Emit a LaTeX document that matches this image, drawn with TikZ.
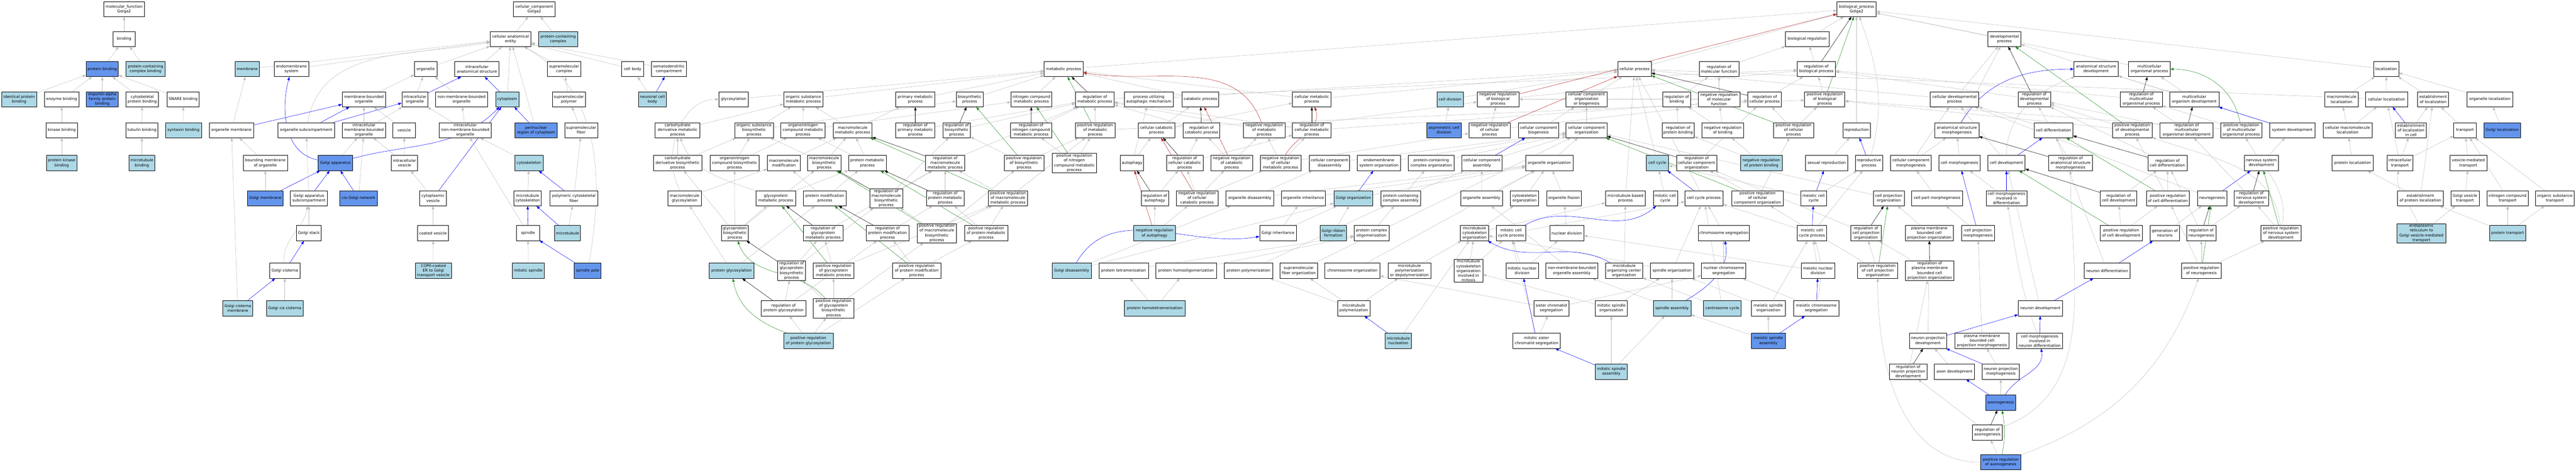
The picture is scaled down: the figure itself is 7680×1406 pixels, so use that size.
\documentclass[tikz,border=0pt]{standalone}
\usepackage{fontspec}
\setmainfont{DejaVu Sans}
\usepackage{tikz}
\usetikzlibrary{arrows.meta, backgrounds}
\definecolor{termlight}{RGB}{173,216,230}
\definecolor{termblue}{RGB}{100,149,237}
\definecolor{edgegray}{RGB}{190,190,190}
\definecolor{posgreen}{RGB}{34,139,34}
\definecolor{negred}{RGB}{178,34,34}
\newcommand{\gofont}{\fontsize{8.6pt}{10.5pt}\selectfont}
\tikzset{
	term/.style={draw=black, line width=0.8pt, fill=white, rectangle, align=center,
		inner xsep=1pt, inner ysep=1.5pt, minimum height=33.75pt, font=\gofont},
	wd/.style={minimum width=#1*0.75pt},
	lb/.style={fill=termlight},
	cb/.style={fill=termblue},
	isa/.style={draw=edgegray, line width=0.6pt, -{Triangle[length=7.5pt,width=5.5pt]}},
	partof/.style={draw=blue, line width=0.6pt, -{Triangle[length=7.5pt,width=5.5pt]}},
	regl/.style={draw=black, line width=0.6pt, -{Triangle[length=7.5pt,width=5.5pt]}},
	posreg/.style={draw=posgreen, line width=0.6pt, -{Triangle[length=7.5pt,width=5.5pt]}},
	negreg/.style={draw=negred, line width=0.6pt, -{Triangle[length=7.5pt,width=5.5pt]}}
}
\begin{document}
\begin{tikzpicture}[x=0.75pt, y=-0.75pt]
	\useasboundingbox (0,0) rectangle (7680,1406);
	% molecular function
	\node[term, wd=122] (mf) at (370,27) {molecular\_function\\Golga2};
	\node[term, wd=67] (bind) at (370,116) {binding};
	\node[term, cb, wd=96] (pbind) at (305,206) {protein binding};
	\node[term, lb, wd=117] (pccb) at (434,206) {protein-containing\\complex binding};
	\node[term, lb, wd=105] (idpb) at (57,296) {identical protein\\binding};
	\node[term, wd=103] (enzb) at (184,296) {enzyme binding};
	\node[term, cb, wd=96] (impb) at (305,296) {importin-alpha\\family protein\\binding};
	\node[term, wd=97] (cytpb) at (424,296) {cytoskeletal\\protein binding};
	\node[term, wd=95] (snareb) at (546,296) {SNARE binding};
	\node[term, wd=95] (kinb) at (184,388) {kinase binding};
	\node[term, wd=95] (tubb) at (423,388) {tubulin binding};
	\node[term, lb, wd=107] (syntb) at (547,388) {syntaxin binding};
	\node[term, lb, wd=91] (pkinb) at (184,486) {protein kinase\\binding};
	\node[term, lb, wd=78] (mtb) at (423,486) {microtubule\\binding};
	% cellular component
	\node[term, wd=124] (cc) at (1593,27) {cellular\_component\\Golga2};
	\node[term, wd=122] (cae) at (1522,116) {cellular anatomical\\entity};
	\node[term, lb, wd=116] (pcc) at (1664,116) {protein-containing\\complex};
	\node[term, lb, wd=72] (membr) at (737,206) {membrane};
	\node[term, wd=102] (endos) at (869,206) {endomembrane\\system};
	\node[term, wd=68] (organ) at (1269,206) {organelle};
	\node[term, wd=132] (ias) at (1422,206) {intracellular\\anatomical structure};
	\node[term, wd=99] (smc) at (1682,206) {supramolecular\\complex};
	\node[term, wd=66] (cbody) at (1886,206) {cell body};
	\node[term, wd=105] (sdc) at (1994,206) {somatodendritic\\compartment};
	\node[term, wd=130] (mbo) at (1085,296) {membrane-bounded\\organelle};
	\node[term, wd=78] (io) at (1237,296) {intracellular\\organelle};
	\node[term, wd=155] (nmbo) at (1376,296) {non-membrane-bounded\\organelle};
	\node[term, lb, wd=69] (cytopl) at (1512,296) {cytoplasm};
	\node[term, wd=99] (smp) at (1696,296) {supramolecular\\polymer};
	\node[term, lb, wd=84] (ncb) at (1945,296) {neuronal cell\\body};
	\node[term, wd=133] (omem) at (690,388) {organelle membrane};
	\node[term, wd=170] (osub) at (913,388) {organelle subcompartment};
	\node[term, wd=130] (imbo) at (1085,388) {intracellular\\membrane-bounded\\organelle};
	\node[term, wd=68] (vesic) at (1205,388) {vesicle};
	\node[term, wd=155] (inmbo) at (1387,388) {intracellular\\non-membrane-bounded\\organelle};
	\node[term, cb, wd=127] (pnr) at (1598,388) {perinuclear\\region of cytoplasm};
	\node[term, wd=99] (smf) at (1733,388) {supramolecular\\fiber};
	\node[term, wd=132] (bmo) at (791,486) {bounding membrane\\of organelle};
	\node[term, cb, wd=102] (golgi) at (1000,486) {Golgi apparatus};
	\node[term, wd=78] (ivesic) at (1206,486) {intracellular\\vesicle};
	\node[term, lb, wd=84] (cytsk) at (1577,486) {cytoskeleton};
	\node[term, cb, wd=107] (gmem) at (791,591) {Golgi membrane};
	\node[term, wd=110] (gasub) at (921,591) {Golgi apparatus\\subcompartment};
	\node[term, cb, wd=112] (cgn) at (1069,591) {cis-Golgi network};
	\node[term, wd=80] (cvesic) at (1291,591) {cytoplasmic\\vesicle};
	\node[term, wd=82] (mtcsk) at (1573,591) {microtubule\\cytoskeleton};
	\node[term, wd=144] (pcf) at (1711,591) {polymeric cytoskeletal\\fiber};
	\node[term, wd=74] (gstack) at (921,695) {Golgi stack};
	\node[term, wd=92] (coatv) at (1291,695) {coated vesicle};
	\node[term, wd=68] (spindle) at (1574,695) {spindle};
	\node[term, lb, wd=77] (mtub) at (1692,695) {microtubule};
	\node[term, wd=90] (gcist) at (849,807) {Golgi cisterna};
	\node[term, lb, wd=107] (copii) at (1292,807) {COPII-coated\\ER to Golgi\\transport vesicle};
	\node[term, lb, wd=95] (mitsp) at (1575,807) {mitotic spindle};
	\node[term, cb, wd=80] (sppole) at (1752,807) {spindle pole};
	\node[term, lb, wd=89] (gcmem) at (709,919) {Golgi cisterna\\membrane};
	\node[term, lb, wd=110] (gcis) at (849,919) {Golgi cis cisterna};
	% metabolic processes
	\node[term, wd=88] (glyc) at (2187,296) {glycosylation};
	\node[term, wd=117] (osmp) at (2395,296) {organic substance\\metabolic process};
	\node[term, wd=133] (cdmp) at (2020,388) {carbohydrate\\derivative metabolic\\process};
	\node[term, wd=115] (osbp) at (2248,388) {organic substance\\biosynthetic\\process};
	\node[term, wd=132] (oncmp) at (2394,388) {organonitrogen\\compound metabolic\\process};
	\node[term, wd=116] (mmp) at (2542,388) {macromolecule\\metabolic process};
	\node[term, wd=145] (cdbp) at (2020,486) {carbohydrate\\derivative biosynthetic\\process};
	\node[term, wd=147] (oncbp) at (2190,486) {organonitrogen\\compound biosynthetic\\process};
	\node[term, wd=99] (mmod) at (2337,486) {macromolecule\\modification};
	\node[term, wd=99] (mbp) at (2457,486) {macromolecule\\biosynthetic\\process};
	\node[term, wd=112] (pmp) at (2586,486) {protein metabolic\\process};
	\node[term, wd=99] (mglyc) at (2041,591) {macromolecule\\glycosylation};
	\node[term, wd=117] (gpmp) at (2313,591) {glycoprotein\\metabolic process};
	\node[term, wd=127] (pmodp) at (2459,591) {protein modification\\process};
	\node[term, wd=80] (gpbp) at (2191,695) {glycoprotein\\biosynthetic\\process};
	\node[term, wd=118] (rgpmp) at (2454,695) {regulation of\\glycoprotein\\metabolic process};
	\node[term, lb, wd=133] (pglyc) at (2181,807) {protein glycosylation};
	\node[term, wd=83] (rgpbp) at (2360,807) {regulation of\\glycoprotein\\biosynthetic\\process};
	\node[term, wd=120] (prgpmp) at (2485,807) {positive regulation\\of glycoprotein\\metabolic process};
	\node[term, wd=133] (rpglyc) at (2336,919) {regulation of\\protein glycosylation};
	\node[term, wd=120] (prgpbp) at (2485,919) {positive regulation\\of glycoprotein\\biosynthetic\\process};
	\node[term, lb, wd=148] (prpglyc) at (2410,1016) {positive regulation\\of protein glycosylation};
	\node[term, wd=116] (metab) at (3171,206) {metabolic process};
	\node[term, wd=117] (primp) at (2729,296) {primary metabolic\\process};
	\node[term, wd=80] (biosp) at (2891,296) {biosynthetic\\process};
	\node[term, wd=122] (ncmp) at (3075,296) {nitrogen compound\\metabolic process};
	\node[term, wd=115] (rmp) at (3264,296) {regulation of\\metabolic process};
	\node[term, wd=146] (puam) at (3425,296) {process utilizing\\autophagic mechanism};
	\node[term, wd=109] (catp) at (3579,296) {catabolic process};
	\node[term, wd=115] (cmp) at (3911,296) {cellular metabolic\\process};
	\node[term, wd=117] (rprimp) at (2729,388) {regulation of\\primary metabolic\\process};
	\node[term, wd=82] (rbiosp) at (2852,388) {regulation of\\biosynthetic\\process};
	\node[term, wd=122] (rncmp) at (3074,388) {regulation of\\nitrogen compound\\metabolic process};
	\node[term, wd=119] (prmp) at (3265,388) {positive regulation\\of metabolic\\process};
	\node[term, wd=110] (ccatp) at (3448,388) {cellular catabolic\\process};
	\node[term, wd=109] (rcatp) at (3582,388) {regulation of\\catabolic process};
	\node[term, wd=124] (nrmp) at (3769,388) {negative regulation\\of metabolic\\process};
	\node[term, wd=115] (rcmp) at (3911,388) {regulation of\\cellular metabolic\\process};
	\node[term, wd=117] (rmmp) at (2818,486) {regulation of\\macromolecule\\metabolic process};
	\node[term, wd=119] (prbiosp) at (3053,486) {positive regulation\\of biosynthetic\\process};
	\node[term, wd=132] (prncmp) at (3203,486) {positive regulation\\of nitrogen\\compound metabolic\\process};
	\node[term, wd=69] (autoph) at (3375,486) {autophagy};
	\node[term, wd=109] (rccatp) at (3532,486) {regulation of\\cellular catabolic\\process};
	\node[term, wd=124] (nrcatp) at (3672,486) {negative regulation\\of catabolic\\process};
	\node[term, wd=122] (nrcmp) at (3818,486) {negative regulation\\of cellular\\metabolic process};
	\node[term, wd=98] (rmbp) at (2642,591) {regulation of\\macromolecule\\biosynthetic\\process};
	\node[term, wd=112] (rpmp) at (2818,591) {regulation of\\protein metabolic\\process};
	\node[term, wd=118] (prmmp) at (3005,591) {positive regulation\\of macromolecule\\metabolic process};
	\node[term, wd=81] (rautoph) at (3443,591) {regulation of\\autophagy};
	\node[term, wd=124] (nrccatp) at (3569,591) {negative regulation\\of cellular\\catabolic process};
	\node[term, wd=143] (odis) at (3726,591) {organelle disassembly};
	\node[term, wd=131] (oinh) at (3886,591) {organelle inheritance};
	\node[term, wd=127] (rpmodp) at (2646,695) {regulation of\\protein modification\\process};
	\node[term, wd=118] (prmbp) at (2793,695) {positive regulation\\of macromolecule\\biosynthetic\\process};
	\node[term, wd=129] (prpmp) at (2940,695) {positive regulation\\of protein metabolic\\process};
	\node[term, lb, wd=124] (nrautoph) at (3442,695) {negative regulation\\of autophagy};
	\node[term, wd=109] (ginh) at (3810,695) {Golgi inheritance};
	\node[term, wd=144] (prpmodp) at (2733,807) {positive regulation\\of protein modification\\process};
	\node[term, lb, wd=117] (gdis) at (3195,807) {Golgi disassembly};
	\node[term, wd=147] (ptetra) at (3350,807) {protein tetramerization};
	\node[term, wd=181] (phomo) at (3536,807) {protein homooligomerization};
	\node[term, wd=144] (ppoly) at (3722,807) {protein polymerization};
	\node[term, wd=112] (smfo) at (3872,807) {supramolecular\\fiber organization};
	\node[term, lb, wd=181] (phtetra) at (3443,919) {protein homotetramerization};
	% cellular processes
	\node[term, wd=100] (cellp) at (4873,206) {cellular process};
	\node[term, wd=119] (rmf) at (5125,206) {regulation of\\molecular function};
	\node[term, lb, wd=78] (celldiv) at (4323,296) {cell division};
	\node[term, wd=125] (nrbp) at (4466,296) {negative regulation\\of biological\\process};
	\node[term, wd=122] (ccob) at (4730,296) {cellular component\\organization\\or biogenesis};
	\node[term, wd=83] (rbind) at (4999,296) {regulation of\\binding};
	\node[term, wd=124] (nrmf) at (5125,296) {negative regulation\\of molecular\\function};
	\node[term, cb, wd=103] (acd) at (4305,388) {asymmetric cell\\division};
	\node[term, wd=124] (nrcp) at (4441,388) {negative regulation\\of cellular\\process};
	\node[term, wd=121] (ccbio) at (4587,388) {cellular component\\biogenesis};
	\node[term, wd=122] (ccorg) at (4730,388) {cellular component\\organization};
	\node[term, wd=96] (rpbind) at (5003,388) {regulation of\\protein binding};
	\node[term, wd=124] (nrbind) at (5136,388) {negative regulation\\of binding};
	\node[term, wd=120] (ccdis) at (3964,486) {cellular component\\disassembly};
	\node[term, wd=129] (esorg) at (4111,486) {endomembrane\\system organization};
	\node[term, wd=136] (pcorg) at (4267,486) {protein-containing\\complex organization};
	\node[term, wd=120] (ccass) at (4418,486) {cellular component\\assembly};
	\node[term, wd=141] (oorg) at (4619,486) {organelle organization};
	\node[term, lb, wd=67] (ccycle) at (4941,486) {cell cycle};
	\node[term, wd=120] (rccorg) at (5058,486) {regulation of\\cellular component\\organization};
	\node[term, lb, wd=116] (gorg) at (4035,591) {Golgi organization};
	\node[term, wd=119] (pcass) at (4176,591) {protein-containing\\complex assembly};
	\node[term, wd=124] (oass) at (4417,591) {organelle assembly};
	\node[term, wd=84] (csorg) at (4545,591) {cytoskeleton\\organization};
	\node[term, wd=104] (ofis) at (4663,591) {organelle fission};
	\node[term, wd=119] (mtbp) at (4846,591) {microtubule-based\\process};
	\node[term, wd=72] (mcc) at (4965,591) {mitotic cell\\cycle};
	\node[term, wd=113] (ccp) at (5080,591) {cell cycle process};
	\node[term, lb, wd=79] (grib) at (3975,695) {Golgi ribbon\\formation};
	\node[term, wd=104] (pcolig) at (4089,695) {protein complex\\oligomerization};
	\node[term, wd=84] (mtcso) at (4396,695) {microtubule\\cytoskeleton\\organization};
	\node[term, wd=87] (mccp) at (4505,695) {mitotic cell\\cycle process};
	\node[term, wd=102] (ndiv) at (4671,695) {nuclear division};
	\node[term, wd=152] (chrseg) at (5139,695) {chromosome segregation};
	\node[term, wd=164] (chrorg) at (4032,807) {chromosome organization};
	\node[term, wd=127] (mtpd) at (4202,807) {microtubule\\polymerization\\or depolymerization};
	\node[term, wd=85] (mtcsom) at (4378,807) {microtubule\\cytoskeleton\\organization\\involved in\\mitosis};
	\node[term, wd=97] (mnd) at (4538,807) {mitotic nuclear\\division};
	\node[term, wd=155] (nmboa) at (4686,807) {non-membrane-bounded\\organelle assembly};
	\node[term, wd=110] (mtoc) at (4842,807) {microtubule\\organizing center\\organization};
	\node[term, wd=129] (sporg) at (4985,807) {spindle organization};
	\node[term, wd=132] (ncs) at (5139,807) {nuclear chromosome\\segregation};
	\node[term, wd=96] (mtpol) at (4036,919) {microtubule\\polymerization};
	\node[term, wd=105] (scs) at (4625,919) {sister chromatid\\segregation};
	\node[term, wd=95] (msporg) at (4804,919) {mitotic spindle\\organization};
	\node[term, lb, wd=112] (spass) at (4985,919) {spindle assembly};
	\node[term, lb, wd=112] (csc) at (5135,919) {centrosome cycle};
	\node[term, lb, wd=78] (mtnuc) at (4169,1016) {microtubule\\nucleation};
	\node[term, wd=142] (mscs) at (4581,1016) {mitotic sister\\chromatid segregation};
	\node[term, lb, wd=95] (mspass) at (4804,1108) {mitotic spindle\\assembly};
	% regulation, reproduction and development
	\node[term, wd=117] (bp) at (5535,27) {biological\_process\\Golga2};
	\node[term, wd=130] (breg) at (5388,116) {biological regulation};
	\node[term, wd=98] (devp) at (5976,116) {developmental\\process};
	\node[term, wd=114] (rbp) at (5415,206) {regulation of\\biological process};
	\node[term, wd=132] (asd) at (6249,206) {anatomical structure\\development};
	\node[term, wd=124] (mop) at (6408,206) {multicellular\\organismal process};
	\node[term, wd=100] (rcp) at (5261,296) {regulation of\\cellular process};
	\node[term, wd=120] (prbp) at (5440,296) {positive regulation\\of biological\\process};
	\node[term, wd=144] (cdp) at (5827,296) {cellular developmental\\process};
	\node[term, wd=96] (rdp) at (6065,296) {regulation of\\developmental\\process};
	\node[term, wd=125] (rmop) at (6384,296) {regulation of\\multicellular\\organismal process};
	\node[term, wd=119] (prcp) at (5347,388) {positive regulation\\of cellular\\process};
	\node[term, wd=82] (repro) at (5535,388) {reproduction};
	\node[term, wd=131] (asm) at (5834,388) {anatomical structure\\morphogenesis};
	\node[term, wd=116] (celldiff) at (6122,388) {cell differentiation};
	\node[term, wd=118] (prdp) at (6357,388) {positive regulation\\of developmental\\process};
	\node[term, lb, wd=124] (nrpbind) at (5251,486) {negative regulation\\of protein binding};
	\node[term, wd=126] (sexrep) at (5446,486) {sexual reproduction};
	\node[term, wd=82] (reprop) at (5572,486) {reproductive\\process};
	\node[term, wd=122] (ccmorph) at (5697,486) {cellular component\\morphogenesis};
	\node[term, wd=124] (cmorph) at (5842,486) {cell morphogenesis};
	\node[term, wd=111] (celldev) at (5982,486) {cell development};
	\node[term, wd=131] (rasm) at (6173,486) {regulation of\\anatomical structure\\morphogenesis};
	\node[term, wd=117] (rcdiff) at (6462,486) {regulation of\\cell differentiation};
	\node[term, wd=153] (prccorg) at (5240,591) {positive regulation\\of cellular\\component organization};
	\node[term, wd=77] (mcycle) at (5407,591) {meiotic cell\\cycle};
	\node[term, wd=92] (cporg) at (5631,591) {cell projection\\organization};
	\node[term, wd=151] (cpmorph) at (5775,591) {cell part morphogenesis};
	\node[term, wd=122] (cmid) at (5982,591) {cell morphogenesis\\involved in\\differentiation};
	\node[term, wd=109] (rcdev) at (6316,591) {regulation of\\cell development};
	\node[term, wd=128] (prcdiff) at (6463,591) {positive regulation\\of cell differentiation};
	\node[term, wd=87] (mcycp) at (5402,695) {meiotic cell\\cycle process};
	\node[term, wd=91] (rcporg) at (5563,695) {regulation of\\cell projection\\organization};
	\node[term, wd=144] (pmbcpo) at (5752,695) {plasma membrane\\bounded cell\\projection organization};
	\node[term, wd=99] (cpm) at (5897,695) {cell projection\\morphogenesis};
	\node[term, wd=127] (prcdev) at (6324,695) {positive regulation\\of cell development};
	\node[term, wd=99] (mnucd) at (5420,807) {meiotic nuclear\\division};
	\node[term, wd=119] (prcporg) at (5598,807) {positive regulation\\of cell projection\\organization};
	\node[term, wd=145] (rpmbcpo) at (5753,807) {regulation of\\plasma membrane\\bounded cell\\projection organization};
	\node[term, wd=137] (ndiff) at (6282,807) {neuron differentiation};
	\node[term, wd=100] (mesporg) at (5272,919) {meiotic spindle\\organization};
	\node[term, wd=134] (mchrseg) at (5415,919) {meiotic chromosome\\segregation};
	\node[term, wd=132] (ndev) at (6083,919) {neuron development};
	\node[term, cb, wd=100] (mespass) at (5272,1016) {meiotic spindle\\assembly};
	\node[term, wd=111] (npd) at (5748,1016) {neuron projection\\development};
	\node[term, wd=162] (pmbcpm) at (5909,1016) {plasma membrane\\bounded cell\\projection morphogenesis};
	\node[term, wd=137] (cmind) at (6081,1016) {cell morphogenesis\\involved in\\neuron differentiation};
	\node[term, wd=112] (rnpd) at (5689,1108) {regulation of\\neuron projection\\development};
	\node[term, wd=120] (axdev) at (5827,1108) {axon development};
	\node[term, wd=111] (npm) at (5965,1108) {neuron projection\\morphogenesis};
	\node[term, cb, wd=89] (axon) at (5965,1200) {axonogenesis};
	\node[term, wd=90] (raxon) at (5925,1289) {regulation of\\axonogenesis};
	\node[term, cb, wd=120] (praxon) at (5965,1378) {positive regulation\\of axonogenesis};
	\node[term, wd=147] (mod) at (6542,296) {multicellular\\organism development};
	\node[term, wd=158] (rmod) at (6519,388) {regulation of\\multicellular\\organismal development};
	\node[term, wd=124] (prmop) at (6682,388) {positive regulation\\of multicellular\\organismal process};
	\node[term, wd=134] (sysdev) at (6834,388) {system development};
	\node[term, wd=102] (nsd) at (6742,486) {nervous system\\development};
	\node[term, wd=87] (neurog) at (6595,591) {neurogenesis};
	\node[term, wd=102] (rnsd) at (6712,591) {regulation of\\nervous system\\development};
	\node[term, wd=88] (genn) at (6454,695) {generation of\\neurons};
	\node[term, wd=87] (rneurog) at (6563,695) {regulation of\\neurogenesis};
	\node[term, wd=119] (prnsd) at (6800,695) {positive regulation\\of nervous system\\development};
	\node[term, wd=119] (prneurog) at (6563,807) {positive regulation\\of neurogenesis};
	% localization
	\node[term, wd=75] (loc) at (7114,206) {localization};
	\node[term, wd=99] (mloc) at (6981,296) {macromolecule\\localization};
	\node[term, wd=125] (cloc) at (7115,296) {cellular localization};
	\node[term, wd=92] (eloc) at (7254,296) {establishment\\of localization};
	\node[term, wd=137] (oloc) at (7423,296) {organelle localization};
	\node[term, wd=147] (cmloc) at (6999,388) {cellular macromolecule\\localization};
	\node[term, wd=92] (elocc) at (7188,388) {establishment\\of localization\\in cell};
	\node[term, wd=67] (transp) at (7349,388) {transport};
	\node[term, cb, wd=110] (gloc) at (7460,388) {Golgi localization};
	\node[term, wd=122] (ploc) at (7014,486) {protein localization};
	\node[term, wd=77] (itransp) at (7155,486) {intracellular\\transport};
	\node[term, wd=111] (vmt) at (7359,486) {vesicle-mediated\\transport};
	\node[term, wd=137] (eploc) at (7216,591) {establishment\\of protein localization};
	\node[term, wd=85] (gvt) at (7349,591) {Golgi vesicle\\transport};
	\node[term, wd=122] (nct) at (7476,591) {nitrogen compound\\transport};
	\node[term, wd=115] (ost) at (7617,591) {organic substance\\transport};
	\node[term, lb, wd=146] (ergvt) at (7219,695) {endoplasmic\\reticulum to\\Golgi vesicle-mediated\\transport};
	\node[term, lb, wd=107] (ptransp) at (7476,695) {protein transport};
	\begin{scope}[on background layer]
	\fill[white] (0,0) rectangle (7680,1406);
	% molecular function edges
	\draw[isa] (bind) -- (mf);
	\draw[isa] (pbind) -- (bind);
	\draw[isa] (pccb) -- (bind);
	\draw[isa] (idpb) -- (pbind);
	\draw[isa] (enzb) -- (pbind);
	\draw[isa] (impb) -- (pbind);
	\draw[isa] (cytpb) -- (pbind);
	\draw[isa] (snareb) -- (pbind);
	\draw[isa] (kinb) -- (enzb);
	\draw[isa] (tubb) -- (cytpb);
	\draw[isa] (syntb) -- (snareb);
	\draw[isa] (pkinb) -- (kinb);
	\draw[isa] (mtb) -- (tubb);
	% cellular component edges
	\draw[isa] (cae) -- (cc);
	\draw[isa] (pcc) -- (cc);
	\draw[isa] (membr) -- (cae);
	\draw[isa] (endos) -- (cae);
	\draw[isa] (organ) -- (cae);
	\draw[isa] (ias) -- (cae);
	\draw[isa] (cytopl) -- (cae);
	\draw[isa] (pnr) -- (cae);
	\draw[isa] (smc) -- (cae);
	\draw[isa] (cbody) -- (cae);
	\draw[isa] (sdc) -- (cae);
	\draw[isa] (osub) to[out=80, in=190] (cae);
	\draw[isa] (sppole) to[out=80, in=-30] (cae);
	\draw[isa] (mbo) -- (organ);
	\draw[isa] (io) -- (organ);
	\draw[isa] (nmbo) -- (organ);
	\draw[isa] (imbo) -- (mbo);
	\draw[isa] (imbo) -- (io);
	\draw[isa] (inmbo) -- (nmbo);
	\draw[isa] (inmbo) -- (io);
	\draw[isa] (vesic) -- (mbo);
	\draw[isa] (omem) -- (membr);
	\draw[isa] (bmo) -- (omem);
	\draw[isa] (golgi) -- (imbo);
	\draw[isa] (ivesic) -- (vesic);
	\draw[isa] (ivesic) -- (imbo);
	\draw[isa] (gmem) -- (bmo);
	\draw[isa] (gasub) -- (osub);
	\draw[isa] (cgn) -- (imbo);
	\draw[isa] (cvesic) -- (ivesic);
	\draw[isa] (gstack) -- (gasub);
	\draw[isa] (coatv) -- (cvesic);
	\draw[isa] (gcist) to[out=95, in=-100] (gasub);
	\draw[isa] (gcmem) -- (omem);
	\draw[isa] (gcis) -- (gcist);
	\draw[isa] (copii) -- (coatv);
	\draw[isa] (smp) -- (smc);
	\draw[isa] (smf) -- (smp);
	\draw[isa] (ncb) -- (cbody);
	\draw[isa] (cytsk) -- (inmbo);
	\draw[isa] (mtcsk) -- (cytsk);
	\draw[isa] (pcf) -- (smf);
	\draw[isa] (spindle) -- (inmbo);
	\draw[isa] (mtub) -- (pcf);
	\draw[isa] (mitsp) -- (spindle);
	\draw[partof] (io) -- (ias);
	\draw[partof] (cytopl) -- (ias);
	\draw[partof] (omem) -- (mbo);
	\draw[partof] (osub) -- (mbo);
	\draw[partof] (osub) -- (io);
	\draw[partof] (golgi) to[out=170, in=-105] (endos);
	\draw[partof] (golgi) to[out=15, in=-135] (cytopl);
	\draw[partof] (pnr) -- (cytopl);
	\draw[partof] (gmem) -- (golgi);
	\draw[partof] (gasub) -- (golgi);
	\draw[partof] (cgn) -- (golgi);
	\draw[partof] (cvesic) -- (cytopl);
	\draw[partof] (gcist) -- (gstack);
	\draw[partof] (gcmem) -- (gcist);
	\draw[partof] (ncb) -- (sdc);
	\draw[partof] (pcf) -- (cytsk);
	\draw[partof] (spindle) -- (mtcsk);
	\draw[partof] (mtub) -- (mtcsk);
	\draw[partof] (sppole) -- (spindle);
	% metabolic edges
	\draw[isa] (glyc) -- (metab);
	\draw[isa] (osmp) -- (metab);
	\draw[isa] (primp) -- (metab);
	\draw[isa] (biosp) -- (metab);
	\draw[isa] (ncmp) -- (metab);
	\draw[isa] (catp) -- (metab);
	\draw[isa] (cmp) -- (metab);
	\draw[isa] (cdmp) -- (osmp);
	\draw[isa] (osbp) -- (osmp);
	\draw[isa] (osbp) -- (biosp);
	\draw[isa] (oncmp) -- (osmp);
	\draw[isa] (oncmp) -- (ncmp);
	\draw[isa] (mmp) -- (osmp);
	\draw[isa] (mmp) -- (primp);
	\draw[isa] (cdbp) -- (cdmp);
	\draw[isa] (cdbp) -- (osbp);
	\draw[isa] (oncbp) -- (osbp);
	\draw[isa] (oncbp) -- (oncmp);
	\draw[isa] (mmod) -- (mmp);
	\draw[isa] (mbp) -- (mmp);
	\draw[isa] (mbp) -- (osbp);
	\draw[isa] (pmp) -- (mmp);
	\draw[isa] (pmp) -- (oncmp);
	\draw[isa] (mglyc) to[out=120, in=180] (glyc);
	\draw[isa] (mglyc) -- (mmod);
	\draw[isa] (gpmp) to[out=160, in=-70] (cdmp);
	\draw[isa] (gpmp) -- (pmp);
	\draw[isa] (pmodp) -- (pmp);
	\draw[isa] (pmodp) -- (mmod);
	\draw[isa] (gpbp) -- (cdbp);
	\draw[isa] (gpbp) -- (gpmp);
	\draw[isa] (gpbp) -- (mbp);
	\draw[isa] (gpbp) -- (oncbp);
	\draw[isa] (pglyc) -- (mglyc);
	\draw[isa] (pglyc) -- (pmodp);
	\draw[isa] (rgpmp) -- (rmmp);
	\draw[isa] (rgpbp) -- (rgpmp);
	\draw[isa] (rgpbp) -- (rmbp);
	\draw[isa] (prgpmp) -- (rgpmp);
	\draw[isa] (prgpmp) -- (prmmp);
	\draw[isa] (rpglyc) -- (rgpbp);
	\draw[isa] (rpglyc) -- (rpmodp);
	\draw[isa] (prgpbp) -- (rgpbp);
	\draw[isa] (prgpbp) -- (prgpmp);
	\draw[isa] (prgpbp) -- (prmbp);
	\draw[isa] (prpglyc) -- (rpglyc);
	\draw[isa] (prpglyc) -- (prgpbp);
	\draw[isa] (prpglyc) -- (prpmodp);
	\draw[isa] (rmp) -- (rbp);
	\draw[isa] (prmp) -- (rmp);
	\draw[isa] (prmp) -- (prbp);
	\draw[isa] (nrmp) -- (rmp);
	\draw[isa] (nrmp) -- (nrbp);
	\draw[isa] (rcmp) -- (rmp);
	\draw[isa] (rcmp) -- (rcp);
	\draw[isa] (nrcmp) -- (rcmp);
	\draw[isa] (nrcmp) -- (nrmp);
	\draw[isa] (nrcmp) -- (nrcp);
	\draw[isa] (rprimp) -- (rmp);
	\draw[isa] (rbiosp) -- (rmp);
	\draw[isa] (prbiosp) -- (rbiosp);
	\draw[isa] (prbiosp) -- (prmp);
	\draw[isa] (rncmp) -- (rmp);
	\draw[isa] (prncmp) -- (rncmp);
	\draw[isa] (prncmp) -- (prmp);
	\draw[isa] (rcatp) -- (rmp);
	\draw[isa] (rccatp) -- (rcatp);
	\draw[isa] (rccatp) -- (rcmp);
	\draw[isa] (nrcatp) -- (rcatp);
	\draw[isa] (nrcatp) -- (nrmp);
	\draw[isa] (nrccatp) -- (rccatp);
	\draw[isa] (nrccatp) -- (nrcatp);
	\draw[isa] (nrccatp) -- (nrcmp);
	\draw[isa] (rautoph) -- (rccatp);
	\draw[isa] (nrautoph) -- (rautoph);
	\draw[isa] (nrautoph) -- (nrccatp);
	\draw[isa] (ccatp) -- (catp);
	\draw[isa] (ccatp) -- (cmp);
	\draw[isa] (autoph) -- (puam);
	\draw[isa] (autoph) -- (ccatp);
	\draw[isa] (puam) -- (cellp);
	\draw[isa] (cmp) -- (cellp);
	\draw[isa] (rmmp) -- (rmp);
	\draw[isa] (rmbp) -- (rbiosp);
	\draw[isa] (rmbp) -- (rmmp);
	\draw[isa] (rpmp) -- (rmmp);
	\draw[isa] (prmmp) -- (rmmp);
	\draw[isa] (prmmp) -- (prmp);
	\draw[isa] (rpmodp) -- (rpmp);
	\draw[isa] (prmbp) -- (rmbp);
	\draw[isa] (prmbp) -- (prbiosp);
	\draw[isa] (prmbp) -- (prmmp);
	\draw[isa] (prpmp) -- (rpmp);
	\draw[isa] (prpmp) -- (prmmp);
	\draw[isa] (prpmodp) -- (rpmodp);
	\draw[isa] (prpmodp) -- (prpmp);
	% cellular process edges
	\draw[isa] (cellp) -- (bp);
	\draw[isa] (metab) -- (bp);
	\draw[isa] (breg) -- (bp);
	\draw[isa] (rbp) -- (breg);
	\draw[isa] (prbp) -- (rbp);
	\draw[isa] (nrbp) -- (rbp);
	\draw[isa] (repro) -- (bp);
	\draw[isa] (reprop) to[out=75, in=-70] (bp);
	\draw[isa] (devp) -- (bp);
	\draw[isa] (mop) -- (bp);
	\draw[isa] (loc) -- (bp);
	\draw[isa] (celldiv) -- (cellp);
	\draw[isa] (acd) -- (celldiv);
	\draw[isa] (nrcp) -- (nrbp);
	\draw[isa] (nrcp) -- (rcp);
	\draw[isa] (ccob) -- (cellp);
	\draw[isa] (ccbio) -- (ccob);
	\draw[isa] (ccorg) -- (ccob);
	\draw[isa] (ccdis) -- (ccorg);
	\draw[isa] (esorg) -- (ccorg);
	\draw[isa] (pcorg) -- (ccorg);
	\draw[isa] (ccass) -- (ccorg);
	\draw[isa] (oorg) -- (ccorg);
	\draw[isa] (rccorg) -- (rcp);
	\draw[isa] (prccorg) -- (rccorg);
	\draw[isa] (prccorg) -- (prcp);
	\draw[isa] (ccycle) -- (cellp);
	\draw[isa] (oinh) -- (oorg);
	\draw[isa] (gorg) -- (oorg);
	\draw[isa] (pcass) -- (pcorg);
	\draw[isa] (pcass) -- (ccass);
	\draw[isa] (oass) -- (oorg);
	\draw[isa] (oass) -- (ccass);
	\draw[isa] (csorg) -- (oorg);
	\draw[isa] (ofis) -- (oorg);
	\draw[isa] (mtbp) -- (cellp);
	\draw[isa] (mcc) -- (ccycle);
	\draw[isa] (ccp) -- (cellp);
	\draw[isa] (odis) -- (oorg);
	\draw[isa] (odis) -- (ccdis);
	\draw[isa] (gdis) -- (odis);
	\draw[isa] (gdis) -- (gorg);
	\draw[isa] (ginh) -- (oinh);
	\draw[isa] (ginh) -- (gorg);
	\draw[isa] (grib) -- (gorg);
	\draw[isa] (pcolig) -- (pcass);
	\draw[isa] (mtcso) -- (csorg);
	\draw[isa] (mtcso) -- (mtbp);
	\draw[isa] (mccp) -- (ccp);
	\draw[isa] (ndiv) -- (ofis);
	\draw[isa] (chrseg) -- (ccp);
	\draw[isa] (smfo) -- (ccorg);
	\draw[isa] (chrorg) -- (oorg);
	\draw[isa] (mtpd) -- (mtcso);
	\draw[isa] (mtcsom) -- (mtcso);
	\draw[isa] (mtcsom) -- (mccp);
	\draw[isa] (mnd) -- (ndiv);
	\draw[isa] (mnd) -- (mccp);
	\draw[isa] (nmboa) -- (oass);
	\draw[isa] (mtoc) -- (mtbp);
	\draw[isa] (sporg) -- (mtcso);
	\draw[isa] (sporg) -- (ccp);
	\draw[isa] (ncs) -- (chrseg);
	\draw[isa] (mtpol) -- (mtpd);
	\draw[isa] (mtpol) -- (smfo);
	\draw[isa] (mtpol) -- (ppoly);
	\draw[isa] (scs) -- (chrorg);
	\draw[isa] (scs) -- (ncs);
	\draw[isa] (msporg) -- (sporg);
	\draw[isa] (msporg) -- (mtcsom);
	\draw[isa] (spass) -- (sporg);
	\draw[isa] (spass) -- (nmboa);
	\draw[isa] (csc) -- (mtoc);
	\draw[isa] (csc) -- (ccp);
	\draw[isa] (mtnuc) -- (mtcso);
	\draw[isa] (mscs) -- (scs);
	\draw[isa] (mscs) to[out=100, in=-80] (mccp);
	\draw[isa] (mspass) -- (msporg);
	\draw[isa] (mspass) -- (spass);
	\draw[isa] (ptetra) -- (pcolig);
	\draw[isa] (phomo) -- (pcolig);
	\draw[isa] (ppoly) -- (pcass);
	\draw[isa] (phtetra) -- (ptetra);
	\draw[isa] (phtetra) -- (phomo);
	\draw[partof] (ccass) -- (ccbio);
	\draw[partof] (gorg) -- (esorg);
	\draw[partof] (gdis) to[out=60, in=190] (ginh);
	\draw[partof] (mtoc) to[out=150, in=-30] (mtcso);
	\draw[partof] (mccp) to[out=30, in=-140] (mcc);
	\draw[partof] (ccp) -- (ccycle);
	\draw[partof] (spass) to[out=30, in=-80] (chrseg);
	\draw[partof] (mtnuc) -- (mtpol);
	\draw[partof] (mscs) -- (mnd);
	\draw[partof] (mspass) -- (mscs);
	% binding regulation edges
	\draw[isa] (rmf) -- (breg);
	\draw[isa] (rbind) -- (rmf);
	\draw[isa] (nrmf) -- (rmf);
	\draw[isa] (nrmf) -- (nrbp);
	\draw[isa] (rpbind) -- (rbind);
	\draw[isa] (nrbind) -- (rbind);
	\draw[isa] (nrbind) -- (nrmf);
	\draw[isa] (nrpbind) -- (rpbind);
	\draw[isa] (nrpbind) -- (nrbind);
	\draw[isa] (rcp) -- (rbp);
	\draw[isa] (prcp) -- (rcp);
	\draw[isa] (prcp) -- (prbp);
	% development edges
	\draw[isa] (asd) -- (devp);
	\draw[isa] (cdp) -- (devp);
	\draw[isa] (cdp) -- (cellp);
	\draw[isa] (rdp) -- (rbp);
	\draw[isa] (rmop) -- (rbp);
	\draw[isa] (asm) -- (devp);
	\draw[isa] (celldiff) -- (cdp);
	\draw[isa] (prdp) -- (rdp);
	\draw[isa] (prdp) -- (prbp);
	\draw[isa] (sexrep) -- (repro);
	\draw[isa] (ccmorph) -- (asm);
	\draw[isa] (ccmorph) -- (cdp);
	\draw[isa] (cmorph) -- (asm);
	\draw[isa] (celldev) -- (cdp);
	\draw[isa] (celldev) to[out=90, in=200] (asd);
	\draw[isa] (rasm) -- (rdp);
	\draw[isa] (rcdiff) -- (rdp);
	\draw[isa] (mcycle) -- (reprop);
	\draw[isa] (mcycle) -- (ccycle);
	\draw[isa] (cporg) -- (ccorg);
	\draw[isa] (cpmorph) -- (ccmorph);
	\draw[isa] (cmid) -- (cmorph);
	\draw[isa] (rcdev) -- (rcdiff);
	\draw[isa] (prcdiff) -- (rcdiff);
	\draw[isa] (prcdiff) -- (prdp);
	\draw[isa] (mcycp) -- (reprop);
	\draw[isa] (mcycp) -- (ccp);
	\draw[isa] (rcporg) -- (rccorg);
	\draw[isa] (pmbcpo) -- (cporg);
	\draw[isa] (cpm) -- (cpmorph);
	\draw[isa] (prcdev) -- (rcdev);
	\draw[isa] (prcdev) -- (prcdiff);
	\draw[isa] (mnucd) -- (mcycp);
	\draw[isa] (mnucd) -- (ndiv);
	\draw[isa] (prcporg) -- (rcporg);
	\draw[isa] (prcporg) -- (prccorg);
	\draw[isa] (rpmbcpo) -- (rcporg);
	\draw[isa] (ndiff) -- (celldiff);
	\draw[isa] (mesporg) -- (mcycp);
	\draw[isa] (mesporg) -- (sporg);
	\draw[isa] (mchrseg) -- (ncs);
	\draw[isa] (mchrseg) to[out=80, in=-70] (mcycp);
	\draw[isa] (ndev) -- (celldev);
	\draw[isa] (mespass) -- (mesporg);
	\draw[isa] (mespass) -- (spass);
	\draw[isa] (npd) -- (pmbcpo);
	\draw[isa] (pmbcpm) -- (cpm);
	\draw[isa] (cmind) to[out=110, in=-80] (cmid);
	\draw[isa] (rnpd) -- (rpmbcpo);
	\draw[isa] (axdev) -- (npd);
	\draw[isa] (npm) -- (pmbcpm);
	\draw[isa] (axon) -- (npm);
	\draw[isa] (raxon) -- (rnpd);
	\draw[isa] (raxon) to[out=20, in=-90] (rasm);
	\draw[isa] (praxon) -- (raxon);
	\draw[isa] (praxon) to[out=180, in=-90] (prcporg);
	\draw[isa] (praxon) to[out=20, in=-110] (prneurog);
	\draw[partof] (asm) to[out=60, in=180] (asd);
	\draw[partof] (reprop) -- (repro);
	\draw[partof] (celldev) -- (celldiff);
	\draw[partof] (mcycle) -- (sexrep);
	\draw[partof] (cmid) -- (celldev);
	\draw[partof] (mcycp) -- (mcycle);
	\draw[partof] (cpm) -- (cmorph);
	\draw[partof] (ndiff) -- (genn);
	\draw[partof] (mchrseg) -- (mnucd);
	\draw[partof] (ndev) -- (ndiff);
	\draw[partof] (mespass) -- (mchrseg);
	\draw[partof] (npd) -- (ndev);
	\draw[partof] (cmind) -- (ndev);
	\draw[partof] (npm) -- (npd);
	\draw[partof] (axon) -- (axdev);
	\draw[partof] (axon) to[out=60, in=-80] (cmind);
	% multicellular edges
	\draw[isa] (mod) -- (asd);
	\draw[isa] (mod) -- (mop);
	\draw[isa] (rmod) -- (rmop);
	\draw[isa] (rmod) -- (rdp);
	\draw[isa] (prmop) -- (rmop);
	\draw[isa] (prmop) -- (prbp);
	\draw[isa] (sysdev) -- (asd);
	\draw[isa] (nsd) -- (sysdev);
	\draw[isa] (neurog) -- (cdp);
	\draw[isa] (rnsd) -- (rmod);
	\draw[isa] (genn) -- (neurog);
	\draw[isa] (rneurog) -- (rnsd);
	\draw[isa] (rneurog) -- (rcdiff);
	\draw[isa] (prnsd) -- (rnsd);
	\draw[isa] (prnsd) to[out=80, in=-60] (prmop);
	\draw[isa] (prnsd) to[out=95, in=-20] (prdp);
	\draw[isa] (prneurog) -- (rneurog);
	\draw[isa] (prneurog) -- (prnsd);
	\draw[isa] (prneurog) -- (prcdiff);
	\draw[partof] (sysdev) -- (mod);
	\draw[partof] (neurog) -- (nsd);
	% localization edges
	\draw[isa] (mloc) -- (loc);
	\draw[isa] (cloc) -- (loc);
	\draw[isa] (eloc) -- (loc);
	\draw[isa] (oloc) -- (loc);
	\draw[isa] (cloc) -- (cellp);
	\draw[isa] (cmloc) -- (mloc);
	\draw[isa] (cmloc) -- (cloc);
	\draw[isa] (elocc) -- (eloc);
	\draw[isa] (transp) -- (eloc);
	\draw[isa] (gloc) -- (oloc);
	\draw[isa] (ploc) -- (cmloc);
	\draw[isa] (itransp) -- (cloc);
	\draw[isa] (itransp) -- (elocc);
	\draw[isa] (itransp) -- (transp);
	\draw[isa] (vmt) -- (transp);
	\draw[isa] (eploc) -- (ploc);
	\draw[isa] (eploc) -- (eloc);
	\draw[isa] (gvt) -- (vmt);
	\draw[isa] (nct) -- (transp);
	\draw[isa] (ost) -- (transp);
	\draw[isa] (ergvt) -- (gvt);
	\draw[isa] (ergvt) to[out=110, in=-100] (itransp);
	\draw[isa] (ptransp) -- (eploc);
	\draw[isa] (ptransp) -- (nct);
	\draw[isa] (ptransp) -- (ost);
	\draw[partof] (elocc) -- (cloc);
	% regulates
	\draw[regl] (rmp) -- (metab);
	\draw[regl] (rcmp) -- (cmp);
	\draw[regl] (rprimp) -- (primp);
	\draw[regl] (rbiosp) -- (biosp);
	\draw[regl] (rncmp) -- (ncmp);
	\draw[regl] (rcatp) -- (catp);
	\draw[regl] (rccatp) -- (ccatp);
	\draw[regl] (rautoph) -- (autoph);
	\draw[regl] (rmmp) -- (mmp);
	\draw[regl] (rmbp) -- (mbp);
	\draw[regl] (rpmp) -- (pmp);
	\draw[regl] (rpmodp) -- (pmodp);
	\draw[regl] (rgpmp) -- (gpmp);
	\draw[regl] (rgpbp) -- (gpbp);
	\draw[regl] (rpglyc) -- (pglyc);
	\draw[regl] (rbp) -- (bp);
	\draw[regl] (rcp) -- (cellp);
	\draw[regl] (rccorg) -- (ccorg);
	\draw[regl] (rdp) -- (devp);
	\draw[regl] (rmop) -- (mop);
	\draw[regl] (rasm) -- (asm);
	\draw[regl] (rcdiff) -- (celldiff);
	\draw[regl] (rcdev) -- (celldev);
	\draw[regl] (rcporg) -- (cporg);
	\draw[regl] (rpmbcpo) -- (pmbcpo);
	\draw[regl] (rnpd) -- (npd);
	\draw[regl] (raxon) -- (axon);
	\draw[regl] (rmod) -- (mod);
	\draw[regl] (rnsd) -- (nsd);
	\draw[regl] (rneurog) -- (neurog);
	% positively regulates
	\draw[posreg] (prmp) -- (metab);
	\draw[posreg] (prbiosp) -- (biosp);
	\draw[posreg] (prncmp) -- (ncmp);
	\draw[posreg] (prmmp) -- (mmp);
	\draw[posreg] (prmbp) -- (mbp);
	\draw[posreg] (prpmp) -- (pmp);
	\draw[posreg] (prpmodp) -- (pmodp);
	\draw[posreg] (prgpmp) -- (gpmp);
	\draw[posreg] (prgpbp) to[out=130, in=-70] (gpbp);
	\draw[posreg] (prpglyc) to[out=160, in=-80] (pglyc);
	\draw[posreg] (prbp) -- (bp);
	\draw[posreg] (prcp) -- (cellp);
	\draw[posreg] (prccorg) -- (ccorg);
	\draw[posreg] (prdp) -- (devp);
	\draw[posreg] (prmop) to[out=100, in=0] (mop);
	\draw[posreg] (prcdiff) -- (celldiff);
	\draw[posreg] (prcdev) -- (celldev);
	\draw[posreg] (prcporg) -- (cporg);
	\draw[posreg] (praxon) to[out=80, in=-80] (axon);
	\draw[posreg] (prnsd) -- (nsd);
	\draw[posreg] (prneurog) -- (neurog);
	% negatively regulates
	\draw[negreg] (nrmp) to[out=110, in=-10] (metab);
	\draw[negreg] (nrcmp) to[out=60, in=-70] (cmp);
	\draw[negreg] (nrcatp) -- (catp);
	\draw[negreg] (nrccatp) -- (ccatp);
	\draw[negreg] (nrautoph) -- (autoph);
	\draw[negreg] (nrbp) -- (bp);
	\draw[negreg] (nrcp) -- (cellp);
	\end{scope}
\end{tikzpicture}
\end{document}
